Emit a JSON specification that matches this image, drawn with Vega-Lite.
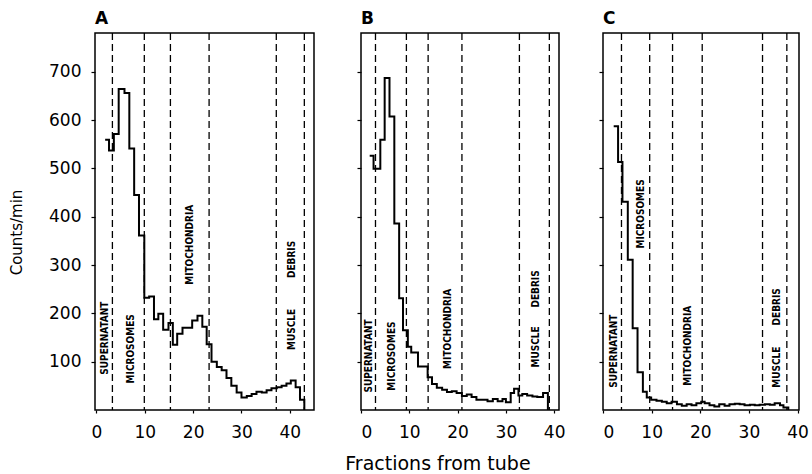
{
  "$schema": "https://vega.github.io/schema/vega-lite/v6.json",
  "padding": {"left": 8, "top": 9, "right": 0, "bottom": 0},
  "background": "white",
  "datasets": {
    "counts": [
      {"panel": "A", "x": 1.8, "y": 559}, {"panel": "A", "x": 2.6, "y": 537}, {"panel": "A", "x": 3.6, "y": 571},
      {"panel": "A", "x": 4.6, "y": 664}, {"panel": "A", "x": 5.8, "y": 656}, {"panel": "A", "x": 6.8, "y": 541},
      {"panel": "A", "x": 7.8, "y": 445}, {"panel": "A", "x": 8.8, "y": 361}, {"panel": "A", "x": 9.9, "y": 232},
      {"panel": "A", "x": 10.9, "y": 235}, {"panel": "A", "x": 11.9, "y": 188}, {"panel": "A", "x": 12.8, "y": 199},
      {"panel": "A", "x": 13.8, "y": 166}, {"panel": "A", "x": 14.9, "y": 180}, {"panel": "A", "x": 15.8, "y": 135},
      {"panel": "A", "x": 16.7, "y": 158}, {"panel": "A", "x": 17.8, "y": 170}, {"panel": "A", "x": 19.8, "y": 185},
      {"panel": "A", "x": 20.9, "y": 195}, {"panel": "A", "x": 21.9, "y": 172}, {"panel": "A", "x": 22.8, "y": 136},
      {"panel": "A", "x": 23.8, "y": 100}, {"panel": "A", "x": 24.9, "y": 89}, {"panel": "A", "x": 25.9, "y": 82},
      {"panel": "A", "x": 26.9, "y": 66}, {"panel": "A", "x": 27.9, "y": 50}, {"panel": "A", "x": 29.0, "y": 36},
      {"panel": "A", "x": 30.0, "y": 26}, {"panel": "A", "x": 31.1, "y": 29}, {"panel": "A", "x": 32.1, "y": 33},
      {"panel": "A", "x": 33.1, "y": 38}, {"panel": "A", "x": 34.2, "y": 36}, {"panel": "A", "x": 35.2, "y": 41},
      {"panel": "A", "x": 36.2, "y": 45}, {"panel": "A", "x": 37.3, "y": 47}, {"panel": "A", "x": 38.3, "y": 50},
      {"panel": "A", "x": 39.3, "y": 55}, {"panel": "A", "x": 40.2, "y": 61}, {"panel": "A", "x": 41.2, "y": 47},
      {"panel": "A", "x": 42.1, "y": 21}, {"panel": "A", "x": 43.0, "y": 0},

      {"panel": "B", "x": 1.8, "y": 526}, {"panel": "B", "x": 2.6, "y": 499}, {"panel": "B", "x": 4.0, "y": 559},
      {"panel": "B", "x": 4.9, "y": 687}, {"panel": "B", "x": 5.9, "y": 607}, {"panel": "B", "x": 6.9, "y": 386},
      {"panel": "B", "x": 7.9, "y": 231}, {"panel": "B", "x": 8.7, "y": 165}, {"panel": "B", "x": 9.7, "y": 131},
      {"panel": "B", "x": 10.4, "y": 119}, {"panel": "B", "x": 11.8, "y": 90}, {"panel": "B", "x": 13.8, "y": 68},
      {"panel": "B", "x": 14.7, "y": 54}, {"panel": "B", "x": 15.7, "y": 46}, {"panel": "B", "x": 16.8, "y": 42},
      {"panel": "B", "x": 17.8, "y": 37}, {"panel": "B", "x": 18.8, "y": 39}, {"panel": "B", "x": 19.8, "y": 35},
      {"panel": "B", "x": 20.9, "y": 29}, {"panel": "B", "x": 21.9, "y": 32}, {"panel": "B", "x": 22.9, "y": 27},
      {"panel": "B", "x": 23.9, "y": 21}, {"panel": "B", "x": 26.2, "y": 18}, {"panel": "B", "x": 27.3, "y": 23},
      {"panel": "B", "x": 28.3, "y": 18}, {"panel": "B", "x": 29.3, "y": 23}, {"panel": "B", "x": 30.0, "y": 16},
      {"panel": "B", "x": 31.0, "y": 35}, {"panel": "B", "x": 31.7, "y": 44}, {"panel": "B", "x": 32.6, "y": 30},
      {"panel": "B", "x": 33.4, "y": 33}, {"panel": "B", "x": 34.4, "y": 30}, {"panel": "B", "x": 35.5, "y": 28},
      {"panel": "B", "x": 36.5, "y": 27}, {"panel": "B", "x": 37.7, "y": 35}, {"panel": "B", "x": 38.7, "y": 0},

      {"panel": "C", "x": 2.2, "y": 587}, {"panel": "C", "x": 3.1, "y": 513}, {"panel": "C", "x": 4.0, "y": 431},
      {"panel": "C", "x": 5.1, "y": 311}, {"panel": "C", "x": 6.1, "y": 169}, {"panel": "C", "x": 7.1, "y": 78},
      {"panel": "C", "x": 8.2, "y": 38}, {"panel": "C", "x": 9.0, "y": 26}, {"panel": "C", "x": 9.9, "y": 21},
      {"panel": "C", "x": 11.0, "y": 19}, {"panel": "C", "x": 12.1, "y": 17}, {"panel": "C", "x": 13.1, "y": 14},
      {"panel": "C", "x": 14.1, "y": 17}, {"panel": "C", "x": 15.2, "y": 12}, {"panel": "C", "x": 16.2, "y": 9},
      {"panel": "C", "x": 17.2, "y": 12}, {"panel": "C", "x": 18.2, "y": 10}, {"panel": "C", "x": 19.2, "y": 14},
      {"panel": "C", "x": 20.2, "y": 17}, {"panel": "C", "x": 20.9, "y": 14}, {"panel": "C", "x": 21.9, "y": 10},
      {"panel": "C", "x": 22.9, "y": 7}, {"panel": "C", "x": 23.9, "y": 12}, {"panel": "C", "x": 25.0, "y": 9},
      {"panel": "C", "x": 26.0, "y": 12}, {"panel": "C", "x": 27.1, "y": 13}, {"panel": "C", "x": 28.1, "y": 12},
      {"panel": "C", "x": 29.1, "y": 10}, {"panel": "C", "x": 30.2, "y": 11}, {"panel": "C", "x": 31.2, "y": 10},
      {"panel": "C", "x": 32.2, "y": 11}, {"panel": "C", "x": 33.3, "y": 12}, {"panel": "C", "x": 34.3, "y": 11},
      {"panel": "C", "x": 35.3, "y": 14}, {"panel": "C", "x": 36.4, "y": 10}, {"panel": "C", "x": 37.1, "y": 5},
      {"panel": "C", "x": 38.1, "y": 0}
    ],
    "bounds": [
      {"panel": "A", "x": 3.3}, {"panel": "A", "x": 9.9}, {"panel": "A", "x": 15.3}, {"panel": "A", "x": 23.3}, {"panel": "A", "x": 37.2}, {"panel": "A", "x": 43.0},
      {"panel": "B", "x": 3.0}, {"panel": "B", "x": 9.4}, {"panel": "B", "x": 13.9}, {"panel": "B", "x": 20.9}, {"panel": "B", "x": 32.8}, {"panel": "B", "x": 39.0},
      {"panel": "C", "x": 3.8}, {"panel": "C", "x": 9.6}, {"panel": "C", "x": 14.3}, {"panel": "C", "x": 20.4}, {"panel": "C", "x": 32.8}, {"panel": "C", "x": 37.8}
    ],
    "labels": [
      {"panel": "A", "label": "SUPERNATANT", "x": 1.8, "y": 73}, {"panel": "A", "label": "MICROSOMES", "x": 7.2, "y": 55},
      {"panel": "A", "label": "MITOCHONDRIA", "x": 19.4, "y": 259}, {"panel": "A", "label": "MUSCLE", "x": 40.4, "y": 124},
      {"panel": "A", "label": "DEBRIS", "x": 40.4, "y": 273},
      {"panel": "B", "label": "SUPERNATANT", "x": 1.6, "y": 36}, {"panel": "B", "label": "MICROSOMES", "x": 6.4, "y": 40},
      {"panel": "B", "label": "MITOCHONDRIA", "x": 18.0, "y": 85}, {"panel": "B", "label": "MUSCLE", "x": 36.3, "y": 88},
      {"panel": "B", "label": "DEBRIS", "x": 36.3, "y": 212},
      {"panel": "C", "label": "SUPERNATANT", "x": 2.2, "y": 46}, {"panel": "C", "label": "MICROSOMES", "x": 7.8, "y": 334},
      {"panel": "C", "label": "MITOCHONDRIA", "x": 17.4, "y": 50}, {"panel": "C", "label": "MUSCLE", "x": 35.8, "y": 46},
      {"panel": "C", "label": "DEBRIS", "x": 35.8, "y": 175}
    ]
  },
  "title": {"text": "Fractions from tube", "orient": "bottom", "anchor": "middle", "font": "DejaVu Sans", "fontSize": 19, "fontWeight": "normal", "color": "black", "offset": 14, "dx": 29},
  "hconcat": [
    {
      "width": 219, "height": 377,
      "title": {"text": "A", "anchor": "start", "frame": "group", "font": "DejaVu Sans", "fontSize": 17, "fontWeight": "bold", "color": "black", "offset": 4},
      "encoding": {
        "x": {"field": "x", "type": "quantitative", "scale": {"domain": [-0.3, 45], "nice": false, "zero": false},
              "axis": {"values": [0, 10, 20, 30, 40], "title": null}}
      },
      "layer": [
        {"data": {"name": "bounds"}, "transform": [{"filter": "datum.panel === 'A'"}],
         "mark": {"type": "rule", "strokeDash": [7, 4], "strokeWidth": 1.3, "color": "black"}},
        {"data": {"name": "labels"}, "transform": [{"filter": "datum.panel === 'A'"}],
         "mark": {"type": "text", "angle": 270, "align": "left", "baseline": "middle", "font": "DejaVu Sans Condensed, DejaVu Sans", "fontSize": 10, "fontWeight": "bold", "color": "black"},
         "encoding": {"y": {"field": "y", "type": "quantitative", "scale": {"domain": [0, 780], "nice": false}, "axis": {"values": [100, 200, 300, 400, 500, 600, 700], "title": "Counts/min", "titleY": 199}}, "text": {"field": "label"}}},
        {"data": {"name": "counts"}, "transform": [{"filter": "datum.panel === 'A'"}],
         "mark": {"type": "line", "interpolate": "step-after", "color": "black", "strokeWidth": 2},
         "encoding": {"y": {"field": "y", "type": "quantitative", "scale": {"domain": [0, 780], "nice": false}, "axis": {"values": [100, 200, 300, 400, 500, 600, 700], "title": "Counts/min", "titleY": 199}}}}
      ]
    },
    {
      "spacing": 31,
      "hconcat": [
        {
          "width": 198, "height": 377,
          "title": {"text": "B", "anchor": "start", "frame": "group", "font": "DejaVu Sans", "fontSize": 17, "fontWeight": "bold", "color": "black", "offset": 4},
          "encoding": {
            "x": {"field": "x", "type": "quantitative", "scale": {"domain": [0, 41], "nice": false, "zero": false},
                  "axis": {"values": [0, 10, 20, 30, 40], "title": null}}
          },
          "layer": [
            {"data": {"name": "bounds"}, "transform": [{"filter": "datum.panel === 'B'"}],
             "mark": {"type": "rule", "strokeDash": [7, 4], "strokeWidth": 1.3, "color": "black"}},
            {"data": {"name": "labels"}, "transform": [{"filter": "datum.panel === 'B'"}],
             "mark": {"type": "text", "angle": 270, "align": "left", "baseline": "middle", "font": "DejaVu Sans Condensed, DejaVu Sans", "fontSize": 10, "fontWeight": "bold", "color": "black"},
             "encoding": {"y": {"field": "y", "type": "quantitative", "scale": {"domain": [0, 780], "nice": false}, "axis": {"values": [100, 200, 300, 400, 500, 600, 700], "labels": false, "title": null}}, "text": {"field": "label"}}},
            {"data": {"name": "counts"}, "transform": [{"filter": "datum.panel === 'B'"}],
             "mark": {"type": "line", "interpolate": "step-after", "color": "black", "strokeWidth": 2},
             "encoding": {"y": {"field": "y", "type": "quantitative", "scale": {"domain": [0, 780], "nice": false}, "axis": {"values": [100, 200, 300, 400, 500, 600, 700], "labels": false, "title": null}}}}
          ]
        },
        {
          "width": 196, "height": 377,
          "title": {"text": "C", "anchor": "start", "frame": "group", "font": "DejaVu Sans", "fontSize": 17, "fontWeight": "bold", "color": "black", "offset": 4},
          "encoding": {
            "x": {"field": "x", "type": "quantitative", "scale": {"domain": [0, 40.3], "nice": false, "zero": false},
                  "axis": {"values": [0, 10, 20, 30, 40], "title": null}}
          },
          "layer": [
            {"data": {"name": "bounds"}, "transform": [{"filter": "datum.panel === 'C'"}],
             "mark": {"type": "rule", "strokeDash": [7, 4], "strokeWidth": 1.3, "color": "black"}},
            {"data": {"name": "labels"}, "transform": [{"filter": "datum.panel === 'C'"}],
             "mark": {"type": "text", "angle": 270, "align": "left", "baseline": "middle", "font": "DejaVu Sans Condensed, DejaVu Sans", "fontSize": 10, "fontWeight": "bold", "color": "black"},
             "encoding": {"y": {"field": "y", "type": "quantitative", "scale": {"domain": [0, 780], "nice": false}, "axis": {"values": [100, 200, 300, 400, 500, 600, 700], "labels": false, "title": null}}, "text": {"field": "label"}}},
            {"data": {"name": "counts"}, "transform": [{"filter": "datum.panel === 'C'"}],
             "mark": {"type": "line", "interpolate": "step-after", "color": "black", "strokeWidth": 2},
             "encoding": {"y": {"field": "y", "type": "quantitative", "scale": {"domain": [0, 780], "nice": false}, "axis": {"values": [100, 200, 300, 400, 500, 600, 700], "labels": false, "title": null}}}}
          ]
        }
      ]
    }
  ],
  "spacing": 40,
  "config": {
    "view": {"stroke": "black", "strokeWidth": 1.5},
    "axis": {
      "domain": false, "grid": false, "ticks": true, "tickColor": "black", "tickWidth": 1.2,
      "labelFont": "DejaVu Sans", "labelFontSize": 17, "labelColor": "black",
      "titleFont": "DejaVu Sans", "titleFontSize": 15, "titleFontWeight": "normal", "titleColor": "black"
    },
    "axisX": {"tickSize": 3, "labelPadding": 11},
    "axisY": {"tickSize": 4, "labelPadding": 10, "titlePadding": 24}
  }
}
